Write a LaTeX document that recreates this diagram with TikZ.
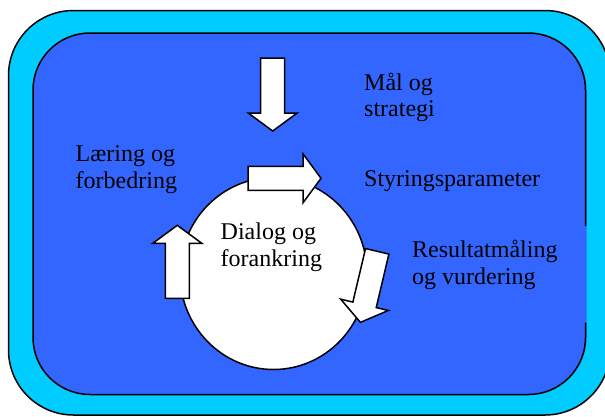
\documentclass[tikz,border=0pt]{standalone}
\usepackage{fontspec}
\setmainfont{Liberation Serif}
\usetikzlibrary{shapes.geometric}
\definecolor{frameblue}{HTML}{00CCFF}
\definecolor{panelblue}{HTML}{3366FF}
\tikzset{
  outline/.style={draw=black, line width=1.5pt},
  label/.style={anchor=base west, inner sep=0pt, align=left, text=black,
    font=\fontsize{24}{26.5}\selectfont},
  blockarrow/.style={outline, fill=white, line join=miter},
}
% block arrow: tail centre (#1,#2), direction angle #3
\newcommand\blockarrowat[3]{%
  \begin{scope}[shift={(#1,#2)}, rotate=#3]
    \draw[blockarrow] (0,-12) -- (55,-12) -- (55,-24.5) -- (73,0)
      -- (55,24.5) -- (55,12) -- (0,12) -- cycle;
  \end{scope}}
\begin{document}
\begin{tikzpicture}[x=1pt, y=-1pt]
  \useasboundingbox (0,0) rectangle (605,416);
  % outer frame
  \draw[outline, fill=frameblue, rounded corners=65pt] (8.5,10.5) rectangle (610,415);
  % inner panel
  \fill[panelblue, rounded corners=57pt] (33,33) rectangle (586.5,394.5);
  \draw[outline, rounded corners=57pt] (585.5,322.7) -- (585.5,394.5) -- (33,394.5)
    -- (33,33) -- (585.5,33) -- (585.5,226);
  % central ellipse
  \node[outline, fill=white, ellipse, minimum width=187pt, minimum height=192pt,
    inner sep=0pt] (hub) at (273.5,273.5) {};
  % cycle arrows
  \blockarrowat{272.7}{58}{-90}
  \blockarrowat{248}{178.3}{0}
  \blockarrowat{377.2}{251.3}{-103.3}
  \blockarrowat{177.3}{298.3}{90}
  % labels (base anchor sits on the last line)
  \node[label] (goal) at (364,116.7) {Mål og\\strategi};
  \node[label] (param) at (364,186.7) {Styringsparameter};
  \node[label] (learn) at (75.5,188) {Læring og\\forbedring};
  \node[label] (dialog) at (220.5,266) {Dialog og\\forankring};
  \node[label] (result) at (412,284) {Resultatmåling\\og vurdering};
\end{tikzpicture}
\end{document}
